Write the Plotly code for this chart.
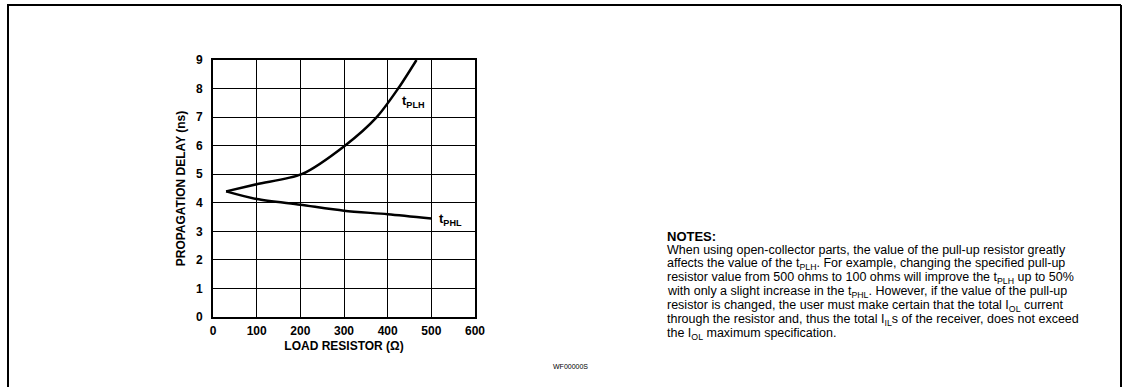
import plotly.graph_objects as go

# Data
r_plh = [30, 100, 203, 302, 375, 424, 466]
t_plh = [4.4, 4.65, 5.0, 6.0, 7.0, 8.0, 9.0]
r_phl = [30, 100, 200, 300, 400, 500]
t_phl = [4.4, 4.13, 3.93, 3.72, 3.6, 3.45]
x_ticks = [0, 100, 200, 300, 400, 500, 600]
y_ticks = [0, 1, 2, 3, 4, 5, 6, 7, 8, 9]

FONT = "Liberation Sans, Arial, sans-serif"

fig = go.Figure()
fig.add_trace(go.Scatter(x=r_plh, y=t_plh, mode="lines",
                         line=dict(color="black", width=2.5, shape="spline", smoothing=0.8), hoverinfo="skip"))
fig.add_trace(go.Scatter(x=r_phl, y=t_phl, mode="lines",
                         line=dict(color="black", width=2.5, shape="spline", smoothing=0.8), hoverinfo="skip"))

W, H = 1126, 387
L, R, T, B = 213, 475, 60, 317
fig.update_layout(
    width=W, height=H, showlegend=False,
    paper_bgcolor="white", plot_bgcolor="white",
    margin=dict(l=L, r=W - R, t=T, b=H - B, pad=0),
    font=dict(family=FONT, color="black"),
)
fig.update_xaxes(range=[0, 600], tickvals=x_ticks, ticktext=[str(v) for v in x_ticks],
                 showgrid=True, gridcolor="black", gridwidth=1.4, zeroline=False,
                 showline=True, linecolor="black", linewidth=2, mirror=True,
                 tickfont=dict(family=FONT, size=12, weight="bold"), ticks="", ticklabelstandoff=2,
                 title=dict(text="<b>LOAD RESISTOR (Ω)</b>", font=dict(size=12, family=FONT), standoff=4))
fig.update_yaxes(range=[0, 9], tickvals=y_ticks, ticktext=[str(v) for v in y_ticks],
                 showgrid=True, gridcolor="black", gridwidth=1.4, zeroline=False,
                 showline=True, linecolor="black", linewidth=2, mirror=True,
                 tickfont=dict(family=FONT, size=12, weight="bold"), ticks="", ticklabelstandoff=6,
                 title=dict(text="<b>PROPAGATION DELAY (ns)</b>", font=dict(size=12, family=FONT), standoff=8))

# curve labels
fig.add_annotation(x=428, y=7.55, xref="x", yref="y", xanchor="left", yanchor="middle", showarrow=False,
                   text="<b>t<sub>PLH</sub></b>", font=dict(size=13, family=FONT))
fig.add_annotation(x=513, y=3.4, xref="x", yref="y", xanchor="left", yanchor="middle", showarrow=False,
                   text="<b>t<sub>PHL</sub></b>", font=dict(size=13, family=FONT))


def px(x):
    return (x - L) / (R - L)


def py(y):
    return (B - y) / (B - T)


# outer frame (top, left, right)
for (x0, y0, x1, y1) in [(7, 5, 1121, 5), (8, 5, 8, 400), (1121, 5, 1121, 400)]:
    fig.add_shape(type="line", xref="paper", yref="paper", x0=px(x0), y0=py(y0), x1=px(x1), y1=py(y1),
                  line=dict(color="black", width=2))

notes = [
    "When using open-collector parts, the value of the pull-up resistor greatly",
    "affects the value of the t<sub>PLH</sub>. For example, changing the specified pull-up",
    "resistor value from 500 ohms to 100 ohms will improve the t<sub>PLH</sub> up to 50%",
    "with only a slight increase in the t<sub>PHL</sub>. However, if the value of the pull-up",
    "resistor is changed, the user must make certain that the total I<sub>OL</sub> current",
    "through the resistor and, thus the total I<sub>IL</sub>s of the receiver, does not exceed",
    "the I<sub>OL</sub> maximum specification.",
]
NX = 665
fig.add_annotation(x=px(NX), y=py(236), xref="paper", yref="paper", xanchor="left", yanchor="middle",
                   showarrow=False, text="<b>NOTES:</b>", font=dict(size=13, family=FONT))
for i, line in enumerate(notes):
    fig.add_annotation(x=px(NX), y=py(250 + 14 * i), xref="paper", yref="paper", xanchor="left",
                       yanchor="middle", showarrow=False, text=line, font=dict(size=12.5, family=FONT))

fig.add_annotation(x=px(570), y=py(366), xref="paper", yref="paper", xanchor="center", yanchor="middle",
                   showarrow=False, text="WF00000S", font=dict(size=7, family=FONT))

fig.write_html("out.html", config={"displayModeBar": False},
               post_script="document.body.style.margin='0';")
